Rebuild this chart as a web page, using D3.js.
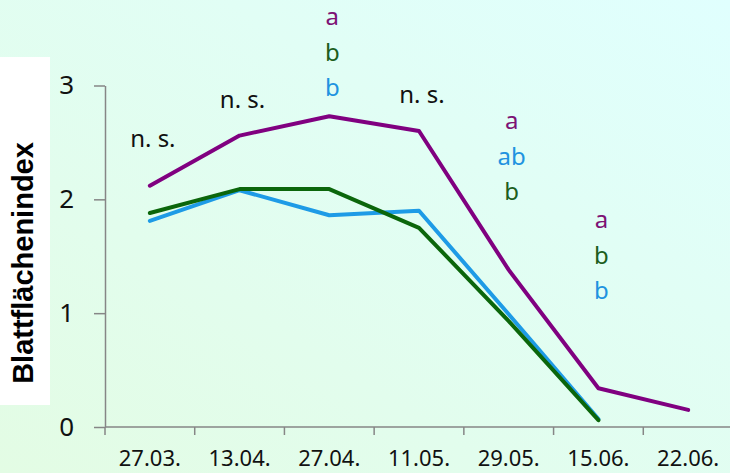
<!DOCTYPE html>
<html>
<head>
<meta charset="utf-8">
<script src="https://cdn.jsdelivr.net/npm/d3@7"></script>
<style>
  body { margin: 0; padding: 0; overflow: hidden; }
  svg { display: block; }
</style>
</head>
<body>
<div id="chart"></div>
<script>
// data
var dates = ["27.03.", "13.04.", "27.04.", "11.05.", "29.05.", "15.06.", "22.06."];
var purpleVals = [2.12, 2.56, 2.73, 2.60, 1.38, 0.34, 0.15];
var blueVals = [1.81, 2.08, 1.86, 1.90, 0.99, 0.07];
var greenVals = [1.88, 2.09, 2.09, 1.75, 0.93, 0.06];
var yTicks = [0, 1, 2, 3];

// significance letters per date (rows from top to bottom)
var sigLabels = [
  { date: "27.03.", rows: [["n. s.", "black"]] },
  { date: "13.04.", rows: [["n. s.", "black"]] },
  { date: "27.04.", rows: [["a", "purple"], ["b", "green"], ["b", "blue"]] },
  { date: "11.05.", rows: [["n. s.", "black"]] },
  { date: "29.05.", rows: [["a", "purple"], ["ab", "blue"], ["b", "green"]] },
  { date: "15.06.", rows: [["a", "purple"], ["b", "green"], ["b", "blue"]] }
];
var sigTop = { "27.03.": 147, "13.04.": 108, "27.04.": 25, "11.05.": 103, "29.05.": 129, "15.06.": 228 };

var colors = { purple: "#800080", blue: "#1e9be6", green: "#0b660b", black: "#111" };
var textColors = { purple: "#7d1275", blue: "#1f93e0", green: "#1d5e1d", black: "#111" };

var W = 730, H = 473;

var svg = d3.select("#chart")
    .append("svg")
    .attr("width", W)
    .attr("height", H);

// background gradient
var defs = svg.append("defs");
var grad = defs.append("linearGradient")
    .attr("id", "bg")
    .attr("x1", "0%").attr("y1", "100%")
    .attr("x2", "100%").attr("y2", "0%");
grad.append("stop").attr("offset", "0%").attr("stop-color", "#e3fce4");
grad.append("stop").attr("offset", "100%").attr("stop-color", "#e0fffe");
svg.append("rect").attr("width", W).attr("height", H).attr("fill", "url(#bg)");

// y label box
svg.append("rect")
    .attr("x", 0).attr("y", 57)
    .attr("width", 50).attr("height", 348)
    .attr("fill", "#fff");

svg.append("text")
    .attr("transform", "translate(33,263) rotate(-90)")
    .attr("text-anchor", "middle")
    .style("font-family", "'Liberation Sans', Arial, sans-serif")
    .style("font-weight", "bold")
    .style("font-size", "29px")
    .attr("fill", "#000")
    .text("Blattflächenindex");

// scales
var x = d3.scaleBand()
    .domain(dates)
    .range([105, 733])
    .padding(0);

var y = d3.scaleLinear()
    .domain([0, 3])
    .range([427, 85.5]);

var font = "'Noto Sans', 'Open Sans', sans-serif";
var axisColor = "#868686";

// Y axis
var yAxis = svg.append("g")
    .attr("transform", "translate(105,0)")
    .call(d3.axisLeft(y).tickValues(yTicks).tickSize(11).tickSizeOuter(0).tickPadding(20).tickFormat(d3.format("d")));
yAxis.select(".domain").attr("stroke", axisColor).attr("stroke-width", 1.5);
yAxis.selectAll(".tick line").attr("stroke", axisColor).attr("stroke-width", 1.5);
yAxis.selectAll(".tick text")
    .style("font-family", font)
    .style("font-size", "26px")
    .attr("fill", "#111");

// X axis (ticks on category boundaries)
var xg = svg.append("g");
xg.append("line")
    .attr("x1", 105).attr("x2", W)
    .attr("y1", y(0)).attr("y2", y(0))
    .attr("stroke", axisColor).attr("stroke-width", 1.5);
xg.selectAll(".xtick")
    .data(dates)
    .join("line")
    .attr("class", "xtick")
    .attr("x1", function (d) { return x(d); })
    .attr("x2", function (d) { return x(d); })
    .attr("y1", y(0))
    .attr("y2", y(0) + 8)
    .attr("stroke", axisColor).attr("stroke-width", 1.5);
xg.selectAll(".xlabel")
    .data(dates)
    .join("text")
    .attr("class", "xlabel")
    .attr("x", function (d) { return x(d) + x.bandwidth() / 2; })
    .attr("y", 466)
    .attr("text-anchor", "middle")
    .style("font-family", font)
    .style("font-size", "22px")
    .attr("fill", "#111")
    .text(function (d) { return d; });

// lines
var line = d3.line()
    .x(function (d, i) { return x(dates[i]) + x.bandwidth() / 2; })
    .y(function (d) { return y(d); });

var series = [
  { vals: purpleVals, color: colors.purple },
  { vals: blueVals, color: colors.blue },
  { vals: greenVals, color: colors.green }
];

svg.append("g")
    .selectAll("path")
    .data(series)
    .join("path")
    .attr("d", function (d) { return line(d.vals); })
    .attr("fill", "none")
    .attr("stroke", function (d) { return d.color; })
    .attr("stroke-width", 4)
    .attr("stroke-linejoin", "round")
    .attr("stroke-linecap", "round");

// significance letters
sigLabels.forEach(function (s) {
    s.rows.forEach(function (r, i) {
        svg.append("text")
            .attr("x", x(s.date) + x.bandwidth() / 2 + 3)
            .attr("y", sigTop[s.date] + i * 35.5)
            .attr("text-anchor", "middle")
            .style("font-family", font)
            .style("font-size", "24px")
            .attr("fill", textColors[r[1]])
            .text(r[0]);
    });
});
</script>
</body>
</html>
